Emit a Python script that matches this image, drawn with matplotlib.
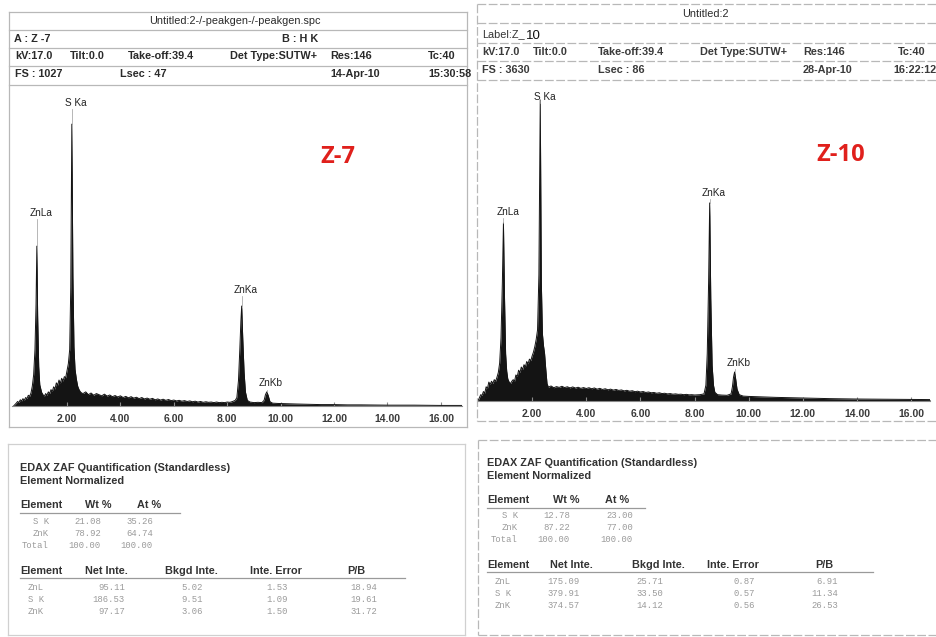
import matplotlib
matplotlib.use('Agg')
import matplotlib.pyplot as plt

W, H = 936, 637

# ---------------- data read from the scanned reports ----------------
# Z-7 spectrum (keV, counts)
z7_energy = [0.0, 0.1, 0.15, 0.2, 0.25, 0.3, 0.35, 0.4, 0.45, 0.5, 0.55, 0.6, 0.65, 0.7, 0.75,
             0.8, 0.84, 0.87, 0.9, 0.94, 0.98, 1.05, 1.1, 1.15, 1.2, 1.25, 1.3, 1.35, 1.4,
             1.45, 1.5, 1.55, 1.6, 1.65, 1.7, 1.75, 1.8, 1.85, 1.9, 1.95, 2.0, 2.05, 2.1,
             2.14, 2.18, 2.22, 2.26, 2.3, 2.35, 2.4, 2.45, 2.5, 2.55,
             2.6, 2.7, 2.8, 2.9, 3.0, 3.1, 3.2, 3.3, 3.4, 3.5, 3.6, 3.7, 3.8, 3.9,
             4.0, 4.1, 4.2, 4.3, 4.4, 4.5, 4.6, 4.7, 4.8, 4.9, 5.0, 5.1, 5.2, 5.3,
             5.4, 5.5, 5.6, 5.7, 5.8, 5.9, 6.0, 6.1, 6.2, 6.3, 6.4, 6.5, 6.6, 6.7,
             6.8, 6.9, 7.0, 7.1, 7.2, 7.3, 7.4, 7.5, 7.6, 7.7, 7.8, 7.9, 8.0, 8.1,
             8.2, 8.3, 8.36, 8.42, 8.47, 8.51, 8.54, 8.58, 8.63, 8.68, 8.75, 8.85,
             9.0, 9.15, 9.3, 9.38, 9.43, 9.48, 9.53, 9.6, 9.7, 9.9, 10.2, 10.6, 11.0,
             11.5, 12.0, 12.5, 13.0, 14.0, 15.0, 16.0, 16.79]
z7_counts = [0, 10, 16, 12, 22, 18, 26, 20, 30, 26, 38, 34, 46, 70, 110,
             200, 360, 566, 320, 140, 75, 48, 40, 34, 44, 38, 50, 44, 58,
             52, 68, 60, 82, 74, 92, 80, 98, 88, 104, 100, 125, 150, 200,
             420, 998, 460, 210, 130, 95, 70, 58, 50, 46,
             44, 50, 40, 46, 38, 44, 40, 36, 42, 35, 39, 33, 37, 32,
             36, 30, 34, 29, 33, 28, 31, 26, 30, 25, 28, 24, 27, 22,
             25, 21, 24, 20, 23, 19, 21, 18, 20, 17, 19, 16, 18, 15,
             17, 14, 16, 13, 15, 13, 14, 12, 14, 12, 13, 12, 14, 13,
             16, 20, 30, 90, 200, 300, 354, 240, 120, 50, 20, 14,
             12, 13, 12, 20, 40, 50, 38, 15, 10, 9, 8, 7, 6,
             5, 5, 4, 4, 3, 3, 2, 2]

# Z-10 spectrum (keV, counts)
z10_energy = [0.0, 0.05, 0.1, 0.15, 0.2, 0.25, 0.3, 0.35, 0.4, 0.45, 0.5, 0.55, 0.6, 0.65,
              0.7, 0.75, 0.8, 0.85, 0.9, 0.94, 0.98, 1.02, 1.06, 1.1, 1.15, 1.2, 1.25,
              1.3, 1.35, 1.4, 1.45, 1.5, 1.55, 1.6, 1.65, 1.7, 1.75, 1.8, 1.85, 1.9, 1.95,
              2.0, 2.05, 2.1, 2.15, 2.2, 2.25, 2.3, 2.34, 2.38, 2.42, 2.46, 2.5, 2.55,
              2.6, 2.7, 2.8, 2.9, 3.0, 3.1, 3.2, 3.3, 3.4, 3.5, 3.6, 3.7, 3.8, 3.9,
              4.0, 4.1, 4.2, 4.3, 4.4, 4.5, 4.6, 4.7, 4.8, 4.9, 5.0, 5.1, 5.2, 5.3,
              5.4, 5.5, 5.6, 5.7, 5.8, 5.9, 6.0, 6.1, 6.2, 6.3, 6.4, 6.5, 6.6, 6.7,
              6.8, 6.9, 7.0, 7.1, 7.2, 7.3, 7.4, 7.5, 7.6, 7.7, 7.8, 7.9, 8.0, 8.1,
              8.2, 8.35, 8.42, 8.47, 8.52, 8.56, 8.6, 8.65, 8.7, 8.75, 8.85, 9.0, 9.2,
              9.35, 9.4, 9.44, 9.48, 9.52, 9.57, 9.65, 9.8, 10.0, 10.5, 11.0, 11.5, 12.0,
              12.5, 13.0, 14.0, 15.0, 16.0, 16.7]
z10_counts = [0, 40, 80, 70, 120, 100, 180, 160, 240, 210, 250, 220, 270, 250,
              300, 360, 480, 800, 1500, 2253, 1300, 600, 380, 280, 240, 220, 250,
              270, 250, 330, 310, 390, 360, 430, 400, 460, 430, 500, 470, 530, 510,
              570, 620, 690, 780, 900, 1600, 3810, 1500, 850, 700, 600, 420, 220,
              175, 190, 168, 182, 172, 186, 170, 180, 166, 178, 164, 174, 160, 170,
              158, 168, 155, 165, 150, 160, 146, 155, 142, 150, 138, 146, 134, 140,
              128, 135, 124, 130, 118, 124, 114, 120, 108, 114, 104, 108, 98, 104,
              94, 98, 90, 94, 86, 90, 84, 86, 80, 84, 78, 80, 76, 78,
              80, 90, 200, 600, 1500, 2507, 1300, 450, 200, 110, 80, 75, 72,
              90, 180, 300, 367, 280, 150, 80, 62, 58, 52, 46, 42, 38,
              33, 30, 25, 22, 19, 18]

peak_names = ['ZnLa', 'S Ka', 'ZnKa', 'ZnKb']
z7_peak_e = [0.87, 2.18, 8.54, 9.48]
z7_label_y = [683, 1073, 411, 81]
z10_peak_e = [0.94, 2.30, 8.56, 9.48]
z10_label_y = [2393, 3849, 2633, 481]

energy_ticks = [2, 4, 6, 8, 10, 12, 14, 16]

# header fields
z7_title = 'Untitled:2-/-peakgen-/-peakgen.spc'
z7_row2 = ['A : Z -7', 'B : H K']
z7_row3 = ['kV:17.0', 'Tilt:0.0', 'Take-off:39.4', 'Det Type:SUTW+', 'Res:146', 'Tc:40']
z7_row4 = ['FS : 1027', 'Lsec : 47', '14-Apr-10', '15:30:58']
z10_title = 'Untitled:2'
z10_row3 = ['kV:17.0', 'Tilt:0.0', 'Take-off:39.4', 'Det Type:SUTW+', 'Res:146', 'Tc:40']
z10_row4 = ['FS : 3630', 'Lsec : 86', '28-Apr-10', '16:22:12']

# quantification tables
q_elements = ['S K', 'ZnK', 'Total']
z7_wt = ['21.08', '78.92', '100.00']
z7_at = ['35.26', '64.74', '100.00']
z10_wt = ['12.78', '87.22', '100.00']
z10_at = ['23.00', '77.00', '100.00']
i_elements = ['ZnL', 'S K', 'ZnK']
z7_net = ['95.11', '186.53', '97.17']
z7_bkgd = ['5.02', '9.51', '3.06']
z7_err = ['1.53', '1.09', '1.50']
z7_pb = ['18.94', '19.61', '31.72']
z10_net = ['175.09', '379.91', '374.57']
z10_bkgd = ['25.71', '33.50', '14.12']
z10_err = ['0.87', '0.57', '0.56']
z10_pb = ['6.91', '11.34', '26.53']

SANS = 'Liberation Sans'
MONO = 'Liberation Mono'

fig = plt.figure(figsize=(W / 100, H / 100), dpi=100)
fig.patch.set_facecolor('white')

# overlay in pixel coordinates for the report frames and text
ov = fig.add_axes([0, 0, 1, 1])
ov.set_xlim(0, W)
ov.set_ylim(H, 0)
ov.axis('off')


def hl(y, x0, x1, ls='-', c='#b8b8b8'):
    ov.plot([x0, x1], [y, y], color=c, lw=0.9, ls=ls)


def vl(x, y0, y1, ls='-', c='#b8b8b8'):
    ov.plot([x, x], [y0, y1], color=c, lw=0.9, ls=ls)


def txt(x, y, s, ha='left', size=7.8, weight='bold', color='#2a2a2a', family=SANS):
    ov.text(x, y, s, ha=ha, va='center', fontsize=size, fontweight=weight,
            color=color, family=family)


# ---------- frames ----------
for y in [12, 30, 48, 66, 85, 427]:
    hl(y, 9, 467)
vl(9, 12, 427)
vl(467, 12, 427)
dash = (0, (7, 2))
for y in [4, 23, 43, 61, 80, 421]:
    hl(y, 477, 936, ls=dash)
vl(477, 4, 421, ls=dash)
# bottom boxes
hl(444, 8, 465, c='#d0d0d0'); hl(635, 8, 465, c='#d0d0d0')
vl(8, 444, 635, c='#d0d0d0'); vl(465, 444, 635, c='#d0d0d0')
hl(440, 478, 936, ls=dash); hl(635, 478, 936, ls=dash)
vl(478, 440, 635, ls=dash)

# ---------- headers ----------
txt(235, 21, z7_title, ha='center', weight='normal')
for x, s in zip([14, 282], z7_row2):
    txt(x, 39, s)
for x, s in zip([15, 70, 128, 230, 330, 428], z7_row3):
    txt(x, 56, s)
for x, s in zip([15, 120, 330, 428], z7_row4):
    txt(x, 74, s)

txt(705, 14, z10_title, ha='center', weight='normal')
txt(482, 34, 'Label:Z_', weight='normal', color='#333')
txt(526, 36, '10', size=9.5, weight='normal', color='#111')
for x, s in zip([482, 533, 598, 700, 803, 898], z10_row3):
    txt(x, 52, s, color='#3a3a3a')
for x, s in zip([482, 598, 803, 893], z10_row4):
    txt(x, 70, s, color='#3a3a3a')

# sample labels
ov.text(338, 157, 'Z-7', ha='center', va='center', fontsize=17, fontweight='bold',
        color='#e0201c', family='Open Sans')
ov.text(841, 155, 'Z-10', ha='center', va='center', fontsize=17, fontweight='bold',
        color='#e0201c', family='Open Sans')


# ---------- spectra ----------
def spectrum(px, energy, counts, peak_e, label_y, xlim, ylim):
    x0, y0, x1, y1 = px
    ax = fig.add_axes([x0 / W, 1 - y1 / H, (x1 - x0) / W, (y1 - y0) / H])
    ax.patch.set_alpha(0)
    ax.fill_between(energy, counts, 0, color='#141414', lw=0)
    ax.plot(energy, counts, color='#141414', lw=0.7)
    for name, pe, ly in zip(peak_names, peak_e, label_y):
        top = counts[energy.index(pe)]
        ax.plot([pe, pe], [top, ly - ylim * 0.02], color='#9a9a9a', lw=0.5)
        ax.annotate(name, (pe, ly), xytext=(3, 0), textcoords='offset points',
                    ha='center', va='center', fontsize=7.2, color='#222', family=SANS)
    ax.set_xlim(*xlim)
    ax.set_ylim(0, ylim)
    for s in ['top', 'left', 'right']:
        ax.spines[s].set_visible(False)
    ax.spines['bottom'].set_color('#8a8a8a')
    ax.spines['bottom'].set_linewidth(0.8)
    ax.set_yticks([])
    ax.set_xticks(energy_ticks)
    ax.set_xticklabels([f'{t:.2f}' for t in energy_ticks])
    ax.tick_params(axis='x', direction='in', length=3, color='#8a8a8a', pad=6,
                   labelsize=7.5, labelcolor='#3a3a3a')
    for lab in ax.get_xticklabels():
        lab.set_fontweight('bold')
        lab.set_family(SANS)
    return ax


spectrum((12, 86, 462, 406), z7_energy, z7_counts, z7_peak_e, z7_label_y,
         (-0.06, 16.79), 1133)
spectrum((478, 81, 930, 401), z10_energy, z10_counts, z10_peak_e, z10_label_y,
         (0.0, 16.7), 4050)


# ---------- quantification tables ----------
def table(x, ys, wt, at, net, bkgd, err, pb, cols):
    (c_wt, c_at, c_name1, c_val1, c_val2, c_name2, c_net, c_bkgd, c_err, c_pb,
     h_net, h_bkgd, h_err, h_pb, u1, u2) = cols
    grey = '#9a9a9a'
    txt(x, ys[0], 'EDAX ZAF Quantification (Standardless)', size=7.8, color='#333')
    txt(x, ys[1], 'Element Normalized', size=7.8, color='#333')
    txt(x, ys[2], 'Element', size=7.8, color='#333')
    txt(c_wt, ys[2], 'Wt %', size=7.8, color='#333')
    txt(c_at, ys[2], 'At %', size=7.8, color='#333')
    hl(ys[2] + 8, x, u1, c='#9a9a9a')
    for i in range(3):
        y = ys[3] + i * 12
        txt(c_name1, y, q_elements[i], ha='right', size=6.4, weight='normal', color=grey, family=MONO)
        txt(c_val1, y, wt[i], ha='right', size=6.4, weight='normal', color=grey, family=MONO)
        txt(c_val2, y, at[i], ha='right', size=6.4, weight='normal', color=grey, family=MONO)
    txt(x, ys[4], 'Element', size=7.8, color='#333')
    for hx, s in zip([h_net, h_bkgd, h_err, h_pb], ['Net Inte.', 'Bkgd Inte.', 'Inte. Error', 'P/B']):
        txt(hx, ys[4], s, size=7.8, color='#333')
    hl(ys[4] + 7, x, u2, c='#9a9a9a')
    for i in range(3):
        y = ys[5] + i * 11.5
        txt(c_name2, y, i_elements[i], size=6.4, weight='normal', color=grey, family=MONO)
        for cx, vals in zip([c_net, c_bkgd, c_err, c_pb], [net, bkgd, err, pb]):
            txt(cx, y, vals[i], ha='right', size=6.4, weight='normal', color=grey, family=MONO)


table(20, [468, 481, 505, 521, 571, 588], z7_wt, z7_at, z7_net, z7_bkgd, z7_err, z7_pb,
      (85, 137, 49, 101, 153, 28, 125, 203, 288, 377, 85, 165, 250, 347, 180, 405))
table(487, [463, 476, 500, 516, 565, 582], z10_wt, z10_at, z10_net, z10_bkgd, z10_err, z10_pb,
      (553, 605, 518, 570, 633, 495, 580, 663, 755, 838, 550, 632, 707, 815, 645, 873))

fig.savefig('out.png', dpi=100, facecolor='white')
